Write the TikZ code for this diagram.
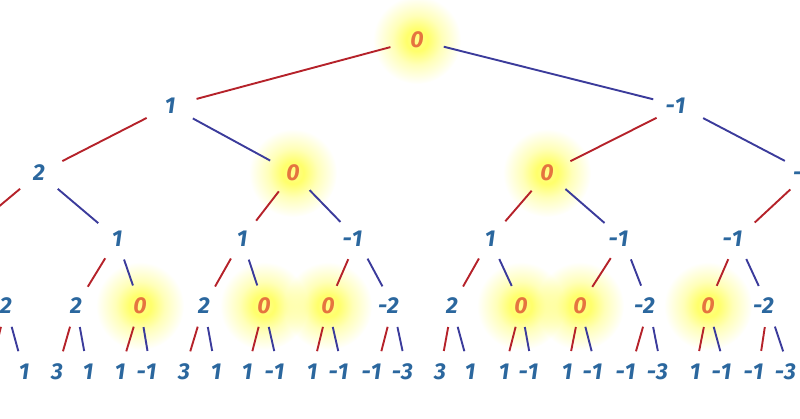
\documentclass[tikz,border=0pt]{standalone}
\usepackage{fontspec}
\setmainfont{Fira Sans}
\usetikzlibrary{shapes.geometric,fadings}
\definecolor{numblue}{HTML}{2B679E}
\definecolor{numorange}{HTML}{E5743F}
\definecolor{edgered}{HTML}{B5222A}
\definecolor{edgeblue}{HTML}{3B3B9B}
\definecolor{glowyellow}{HTML}{FFFF50}
\pgfdeclareradialshading{glowshade}{\pgfpointorigin}{color(0bp)=(white!65!black); color(6bp)=(white!85!black); color(14bp)=(white!40!black); color(25bp)=(black); color(50bp)=(black)}
\pgfdeclarefading{glowfade}{\pgfuseshading{glowshade}}
\pgfdeclarelayer{background}
\pgfsetlayers{background,main}
\newcommand\mn[1]{\llap{-}#1}
\tikzset{
  numnode/.style={ellipse, inner sep=0pt, minimum width=56pt, minimum height=42pt, text=numblue, font=\fontsize{23}{27}\selectfont\bfseries\itshape},
  zeronode/.style={numnode, text=numorange},
  leftedge/.style={draw=edgered, line width=1.9pt},
  rightedge/.style={draw=edgeblue, line width=1.9pt},
  glowspot/.style={fill=glowyellow, path fading=glowfade}
}
\begin{document}
\begin{tikzpicture}[x=1pt,y=-1pt]
\useasboundingbox (0,0) rectangle (800,418);
\clip (0,0) rectangle (800,418);
% level 0
\node[zeronode] (r) at (417,40) {0};
% level 1
\node[numnode] (a1) at (170,106) {1};
\node[numnode] (a2) at (680,106) {\mn1};
% level 2
\node[numnode] (b1) at (39,173) {2};
\node[zeronode] (b2) at (293,173) {0};
\node[zeronode] (b3) at (547,173) {0};
\node[numnode] (b4) at (808,173) {\mn2};
% level 3
\node[numnode] (c0) at (-40,239) {};
\node[numnode] (c1) at (117,239) {1};
\node[numnode] (c2) at (242,239) {1};
\node[numnode] (c3) at (357,239) {\mn1};
\node[numnode] (c4) at (490,239) {1};
\node[numnode] (c5) at (623,239) {\mn1};
\node[numnode] (c6) at (737,239) {\mn1};
% level 4
\node[numnode] (d1) at (6,306) {2};
\node[numnode] (d2) at (76,306) {2};
\node[zeronode] (d3) at (140,306) {0};
\node[numnode] (d4) at (204,306) {2};
\node[zeronode] (d5) at (264,306) {0};
\node[zeronode] (d6) at (328,306) {0};
\node[numnode] (d7) at (393,306) {\mn2};
\node[numnode] (d8) at (452,306) {2};
\node[zeronode] (d9) at (521,306) {0};
\node[zeronode] (d10) at (580,306) {0};
\node[numnode] (d11) at (649,306) {\mn2};
\node[zeronode] (d12) at (708,306) {0};
\node[numnode] (d13) at (768,306) {\mn2};
% level 5
\node[numnode] (e0) at (-10,372) {};
\node[numnode] (e1) at (24,372) {1};
\node[numnode] (e2) at (57,372) {3};
\node[numnode] (e3) at (88,372) {1};
\node[numnode] (e4) at (120,372) {1};
\node[numnode] (e5) at (151,372) {\mn1};
\node[numnode] (e6) at (184,372) {3};
\node[numnode] (e7) at (216,372) {1};
\node[numnode] (e8) at (247,372) {1};
\node[numnode] (e9) at (279,372) {\mn1};
\node[numnode] (e10) at (312,372) {1};
\node[numnode] (e11) at (343,372) {\mn1};
\node[numnode] (e12) at (376,372) {\mn1};
\node[numnode] (e13) at (407,372) {\mn3};
\node[numnode] (e14) at (440,372) {3};
\node[numnode] (e15) at (470,372) {1};
\node[numnode] (e16) at (504,372) {1};
\node[numnode] (e17) at (533,372) {\mn1};
\node[numnode] (e18) at (567,372) {1};
\node[numnode] (e19) at (597,372) {\mn1};
\node[numnode] (e20) at (630,372) {\mn1};
\node[numnode] (e21) at (662,372) {\mn3};
\node[numnode] (e22) at (695,372) {1};
\node[numnode] (e23) at (726,372) {\mn1};
\node[numnode] (e24) at (758,372) {\mn1};
\node[numnode] (e25) at (790,372) {\mn3};
% glows
\begin{pgfonlayer}{background}
\foreach \n in {r,b2,b3,d3,d5,d6,d9,d10,d12}
  \fill[glowspot] (\n) circle (44);
\end{pgfonlayer}
% edges
\foreach \p/\l/\q in {r/a1/a2, a1/b1/b2, a2/b3/b4, b1/c0/c1, b2/c2/c3, b3/c4/c5,
  c1/d2/d3, c2/d4/d5, c3/d6/d7, c4/d8/d9, c5/d10/d11, c6/d12/d13,
  d1/e0/e1, d2/e2/e3, d3/e4/e5, d4/e6/e7, d5/e8/e9, d6/e10/e11, d7/e12/e13,
  d8/e14/e15, d9/e16/e17, d10/e18/e19, d11/e20/e21, d12/e22/e23, d13/e24/e25}
{
  \draw[leftedge] (\p) -- (\l);
  \draw[rightedge] (\p) -- (\q);
}
\draw[leftedge] (b4) -- (c6);
\draw[rightedge] (c0) -- (d1);
\end{tikzpicture}
\end{document}
